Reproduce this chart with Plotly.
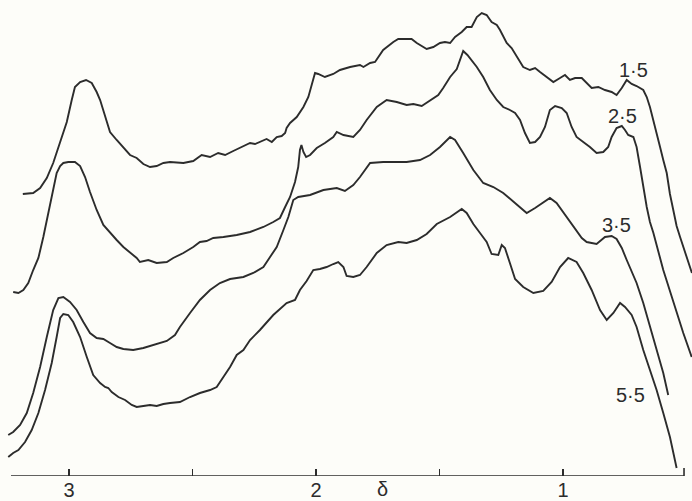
import plotly.graph_objects as go

# Chemical shift (delta, ppm) and relative absorption (arbitrary units)
delta_15 = [3.187, 3.145, 3.117, 3.090, 3.064, 3.036, 3.009, 2.989, 2.976, 2.955, 2.931, 2.908, 2.888, 2.874,
            2.861, 2.847, 2.834, 2.807, 2.780, 2.753, 2.726, 2.699, 2.672, 2.645, 2.618, 2.591, 2.537, 2.497,
            2.463, 2.429, 2.396, 2.368, 2.335, 2.301, 2.267, 2.247, 2.220, 2.200, 2.179, 2.159, 2.139, 2.125,
            2.119, 2.105, 2.078, 2.051, 2.031, 2.017, 2.004, 1.991, 1.964, 1.930, 1.903, 1.862, 1.822, 1.808,
            1.781, 1.761, 1.728, 1.687, 1.667, 1.613, 1.592, 1.552, 1.525, 1.498, 1.478, 1.457, 1.437, 1.410,
            1.390, 1.370, 1.349, 1.329, 1.309, 1.289, 1.268, 1.255, 1.242, 1.228, 1.208, 1.187, 1.161, 1.134,
            1.113, 1.093, 1.066, 1.039, 1.012, 0.992, 0.972, 0.951, 0.924, 0.904, 0.884, 0.857, 0.830, 0.803,
            0.783, 0.762, 0.742, 0.722, 0.702, 0.675, 0.661, 0.648, 0.634, 0.621, 0.607, 0.594, 0.580, 0.567,
            0.553, 0.540, 0.526, 0.502, 0.478]
signal_15 = [282, 283, 288, 298, 313, 333, 354, 376, 389, 394, 396, 393, 384, 376,
             366, 353, 344, 336, 328, 321, 318, 312, 309, 310, 313, 314, 313, 315,
             321, 319, 323, 321, 325, 329, 333, 332, 335, 337, 334, 339, 340, 343,
             348, 353, 359, 369, 379, 393, 403, 402, 399, 402, 406, 409, 411, 409,
             413, 414, 426, 434, 437, 437, 433, 427, 429, 433, 434, 433, 439, 444,
             449, 449, 459, 463, 461, 454, 451, 446, 439, 433, 428, 419, 409, 406,
             408, 404, 399, 394, 398, 401, 396, 398, 398, 393, 388, 389, 386, 384,
             381, 388, 396, 392, 390, 386, 379, 369, 356, 343, 329, 316, 303, 282,
             266, 250, 239, 221, 203]

delta_25 = [3.226, 3.205, 3.185, 3.165, 3.145, 3.124, 3.104, 3.084, 3.064, 3.050, 3.036, 3.023, 3.003, 2.976,
            2.955, 2.935, 2.915, 2.888, 2.861, 2.834, 2.807, 2.780, 2.753, 2.726, 2.713, 2.679, 2.645, 2.604,
            2.578, 2.537, 2.497, 2.470, 2.443, 2.416, 2.375, 2.321, 2.267, 2.213, 2.173, 2.146, 2.125, 2.105,
            2.085, 2.072, 2.065, 2.059, 2.051, 2.040, 2.024, 1.997, 1.964, 1.930, 1.916, 1.889, 1.849, 1.822,
            1.795, 1.754, 1.714, 1.673, 1.633, 1.606, 1.572, 1.538, 1.505, 1.485, 1.457, 1.430, 1.417, 1.404,
            1.387, 1.349, 1.323, 1.296, 1.268, 1.242, 1.215, 1.194, 1.174, 1.154, 1.134, 1.113, 1.093, 1.073,
            1.053, 1.032, 1.005, 0.985, 0.965, 0.945, 0.918, 0.891, 0.864, 0.837, 0.817, 0.803, 0.783, 0.762,
            0.749, 0.736, 0.715, 0.702, 0.688, 0.675, 0.661, 0.648, 0.634, 0.594, 0.553, 0.513, 0.479]
signal_25 = [184, 183, 186, 193, 206, 218, 239, 263, 286, 303, 310, 313, 314, 314,
             310, 299, 284, 266, 251, 243, 236, 229, 223, 218, 214, 216, 213, 214,
             218, 223, 229, 234, 235, 238, 239, 241, 244, 249, 254, 258, 269, 279,
             294, 309, 326, 331, 324, 319, 321, 328, 333, 339, 344, 341, 339, 346,
             356, 369, 376, 374, 371, 372, 370, 376, 381, 388, 399, 407, 415, 425,
             421, 409, 399, 386, 376, 369, 366, 363, 356, 343, 333, 334, 339, 349,
             366, 370, 368, 363, 349, 339, 334, 329, 323, 324, 329, 339, 348, 350,
             346, 341, 339, 329, 309, 289, 269, 254, 243, 206, 173, 143, 119]

delta_35 = [3.246, 3.226, 3.198, 3.171, 3.145, 3.117, 3.090, 3.064, 3.043, 3.023, 2.996, 2.969, 2.942, 2.915,
            2.888, 2.861, 2.834, 2.807, 2.780, 2.740, 2.699, 2.659, 2.632, 2.604, 2.571, 2.551, 2.510, 2.470,
            2.429, 2.389, 2.348, 2.294, 2.254, 2.213, 2.186, 2.159, 2.132, 2.112, 2.092, 2.072, 2.024, 1.970,
            1.916, 1.883, 1.849, 1.822, 1.781, 1.728, 1.633, 1.579, 1.538, 1.498, 1.457, 1.437, 1.404, 1.363,
            1.323, 1.282, 1.242, 1.194, 1.174, 1.147, 1.113, 1.080, 1.053, 1.026, 0.985, 0.945, 0.924, 0.904,
            0.864, 0.830, 0.803, 0.783, 0.762, 0.742, 0.729, 0.702, 0.675, 0.648, 0.621, 0.594, 0.574]
signal_35 = [41, 44, 51, 63, 83, 109, 139, 166, 178, 179, 174, 166, 154, 143,
             138, 137, 133, 129, 127, 126, 128, 131, 133, 135, 141, 149, 163, 176,
             186, 193, 197, 199, 203, 209, 219, 229, 246, 259, 276, 279, 281, 286,
             288, 285, 291, 299, 313, 314, 314, 316, 321, 329, 339, 336, 323, 306,
             293, 289, 283, 273, 269, 263, 268, 274, 278, 273, 259, 246, 238, 234,
             232, 239, 240, 237, 228, 216, 208, 193, 173, 149, 126, 103, 81]

delta_55 = [3.246, 3.226, 3.205, 3.178, 3.151, 3.124, 3.097, 3.070, 3.050, 3.036, 3.023, 3.003, 2.983, 2.955,
            2.928, 2.902, 2.874, 2.854, 2.841, 2.827, 2.800, 2.773, 2.746, 2.726, 2.699, 2.672, 2.645, 2.618,
            2.591, 2.551, 2.510, 2.470, 2.429, 2.402, 2.375, 2.348, 2.321, 2.294, 2.267, 2.227, 2.173, 2.119,
            2.085, 2.065, 2.038, 2.011, 1.984, 1.957, 1.930, 1.910, 1.889, 1.876, 1.849, 1.822, 1.795, 1.754,
            1.714, 1.667, 1.633, 1.592, 1.552, 1.511, 1.457, 1.410, 1.390, 1.363, 1.336, 1.309, 1.289, 1.262,
            1.248, 1.235, 1.215, 1.194, 1.161, 1.120, 1.080, 1.046, 1.012, 0.979, 0.945, 0.918, 0.884, 0.850,
            0.823, 0.796, 0.769, 0.749, 0.722, 0.702, 0.675, 0.648, 0.621, 0.594, 0.567, 0.540]
signal_55 = [19, 23, 26, 34, 46, 63, 86, 113, 139, 158, 162, 161, 154, 139,
             119, 101, 93, 89, 88, 84, 79, 76, 71, 69, 70, 71, 70, 72,
             73, 74, 79, 83, 86, 89, 99, 109, 121, 126, 136, 146, 161, 173,
             176, 186, 195, 206, 207, 209, 212, 214, 209, 200, 199, 201, 209, 223,
             231, 234, 233, 236, 242, 252, 259, 267, 263, 252, 243, 234, 222, 221,
             231, 228, 213, 197, 189, 183, 185, 194, 209, 218, 214, 203, 186, 166,
             156, 163, 173, 169, 161, 149, 126, 106, 86, 63, 39, 8]

series = [
    ("1·5", delta_15, signal_15, 0.713, 406),
    ("2·5", delta_25, signal_25, 0.759, 360),
    ("3·5", delta_35, signal_35, 0.783, 251),
    ("5·5", delta_55, signal_55, 0.728, 81),
]

tick_vals = [3, 2.5, 2, 1.5, 1]
tick_text = ["3", "", "2", "", "1"]
axis_start, axis_end = 3.235, 0.510
x_range = [3.2794, 0.4777]
y_range = [0, 476]

ink = "#2c2c2c"
font_family = "Liberation Sans, Arial, sans-serif"

fig = go.Figure()
for name, xs, ys, lx, ly in series:
    fig.add_trace(go.Scatter(x=xs, y=ys, mode="lines", name=name,
                             line=dict(color=ink, width=1.9), hoverinfo="skip"))
    fig.add_annotation(x=lx, y=ly, text=name, showarrow=False,
                       font=dict(family=font_family, size=20, color=ink))

# baseline of the delta scale and its closing tick
fig.add_shape(type="line", x0=axis_start, x1=axis_end, y0=0, y1=0,
              line=dict(color=ink, width=1.6), layer="above")
fig.add_shape(type="line", x0=axis_end, x1=axis_end, y0=0, y1=8,
              line=dict(color=ink, width=1.6), layer="above")

fig.add_annotation(x=1.73, y=0, yshift=-13, text="δ", showarrow=False,
                   font=dict(family=font_family, size=20, color=ink))

fig.update_layout(
    width=692, height=501,
    margin=dict(l=0, r=0, t=0, b=25),
    paper_bgcolor="#fdfdf9", plot_bgcolor="#fdfdf9",
    showlegend=False,
    xaxis=dict(range=x_range, showgrid=False, zeroline=False, showline=False,
               tickvals=tick_vals, ticktext=tick_text, ticks="inside", ticklen=7,
               tickwidth=1.6, tickcolor=ink,
               tickfont=dict(family=font_family, size=20, color=ink)),
    yaxis=dict(range=y_range, visible=False, showgrid=False, zeroline=False),
)

fig.write_html("out.html",
               config={"displayModeBar": False, "staticPlot": True},
               post_script=["document.body.style.margin='0px';"
                            "document.body.style.background='#fdfdf9';"])
